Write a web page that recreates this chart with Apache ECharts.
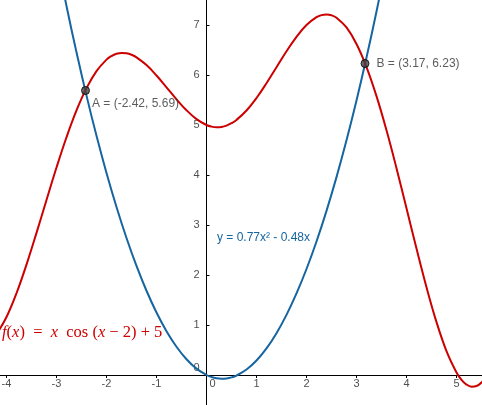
<!DOCTYPE html>
<html><head><meta charset="utf-8">
<script src="https://cdn.jsdelivr.net/npm/echarts@6/dist/echarts.min.js"></script>
<style>html,body{margin:0;padding:0;background:#fff}#c{width:482px;height:405px}</style>
</head><body><div id="c"></div>
<script>
// sampled x positions for the red curve
const xs = [-4.2,-4.0,-3.8,-3.6,-3.4,-3.2,-3.0,-2.8,-2.6,-2.4,-2.2,-2.0,-1.9,-1.8,-1.7,-1.6,-1.5,-1.4,-1.2,-1.0,-0.8,-0.6,-0.4,-0.2,0,0.1,0.2,0.3,0.4,0.5,0.6,0.8,1.0,1.2,1.4,1.6,1.8,2.0,2.2,2.3,2.4,2.5,2.6,2.8,3.0,3.2,3.4,3.6,3.8,4.0,4.2,4.4,4.6,4.8,5.0,5.1,5.2,5.3,5.4,5.5,5.6];
// red curve f(x) values read at xs
const fVals = [0.8145,1.1593,1.6350,2.2080,2.8421,3.5007,4.1490,4.7550,5.2924,5.7376,6.0786,6.3073,6.3793,6.4237,6.4418,6.4348,6.4047,6.3535,6.1979,5.9900,5.7538,5.5141,5.2950,5.1177,5.0,4.9677,4.9546,4.9613,4.9883,5.0354,5.1020,5.2899,5.5403,5.8361,6.1555,6.4737,6.7641,7.0,7.1562,7.1973,7.2105,7.1940,7.1459,6.9508,6.6209,6.1596,5.5779,4.8949,4.1366,3.3354,2.5283,1.7555,1.0583,0.4773,0.0500,-0.0956,-0.1911,-0.2336,-0.2207,-0.1505,-0.0219];
// blue parabola sample x and values
const gx = [-3.0,-2.8,-2.6,-2.4,-2.2,-2.0,-1.8,-1.6,-1.4,-1.2,-1.0,-0.8,-0.6,-0.4,-0.2,0,0.1,0.2,0.3,0.4,0.5,0.6,0.8,1.0,1.2,1.4,1.6,1.8,2.0,2.2,2.4,2.6,2.8,3.0,3.2,3.4,3.6];
const gVals = [8.37,7.3808,6.4532,5.5872,4.7828,4.04,3.3588,2.7392,2.1812,1.6848,1.25,0.8768,0.5652,0.3152,0.1268,0,-0.0403,-0.0652,-0.0747,-0.0688,-0.0475,-0.0108,0.1088,0.29,0.5328,0.8372,1.2032,1.6308,2.12,2.6708,3.2832,3.9572,4.6928,5.49,6.3488,7.2692,8.2512];
// intersection points
const ptNames = ['A','B'];
const ptX = [-2.42, 3.17];
const ptY = [5.69, 6.23];
// tick values / labels
const xTicks = [-4,-3,-2,-1,0,1,2,3,4,5];
const yTicks = [0,1,2,3,4,5,6,7];

const RED = '#cc0000', BLUE = '#1565a0';
const FONT = '"Liberation Sans", Arial, sans-serif';
const chart = echarts.init(document.getElementById('c'), null, {renderer:'canvas'});
const tickLabel = {show:true, fontFamily:FONT, fontSize:11, color:'#222'};
chart.setOption({
  animation:false,
  grid:{left:0, right:0, top:0, bottom:0, outerBoundsMode:'none'},
  xAxis:{type:'value', min:-4.13, max:5.51,
    axisLine:{onZero:true, lineStyle:{color:'#000', width:1}},
    axisTick:{show:true, inside:false, length:3, customValues:xTicks, lineStyle:{color:'#000'}},
    splitLine:{show:false},
    axisLabel:{show:false, customValues:xTicks}},
  yAxis:{type:'value', min:-0.6, max:7.5,
    axisLine:{onZero:true, lineStyle:{color:'#000', width:1}},
    axisTick:{show:true, inside:true, length:3, customValues:yTicks, lineStyle:{color:'#000'}},
    splitLine:{show:false},
    axisLabel:{show:false, customValues:yTicks}},
  series:[
    {type:'line', data:gx.map((x,i)=>[x,gVals[i]]), smooth:0.4, symbol:'none', clip:true,
      lineStyle:{color:BLUE, width:2}, z:2},
    {type:'line', data:xs.map((x,i)=>[x,fVals[i]]), smooth:0.4, symbol:'none', clip:true,
      lineStyle:{color:RED, width:2}, z:3},
    {type:'scatter', symbolSize:8, z:5,
      itemStyle:{color:'#444', borderColor:'#000', borderWidth:1},
      data:ptNames.map((n,i)=>({value:[ptX[i],ptY[i]], name:n,
        label:{show:true, position:'right',
          distance: i===0 ? 2 : 7,
          offset: i===0 ? [0,13] : [0,0],
          formatter: n+' = ('+ptX[i].toFixed(2)+', '+ptY[i].toFixed(2)+')',
          fontFamily:FONT, fontSize:12, color:'#333'}}))},
    // x-axis tick labels
    {type:'scatter', silent:true, symbolSize:0, z:1, clip:false,
      data:xTicks.map(v=>({value:[v,0],
        label:Object.assign({}, tickLabel, {position:'bottom', distance:3,
          offset: v===0 ? [6,0] : [0,0], formatter:String(v)})}))},
    // y-axis tick labels
    {type:'scatter', silent:true, symbolSize:0, z:1, clip:false,
      data:yTicks.map(v=>({value:[0,v],
        label:Object.assign({}, tickLabel, {position:'left', distance:7,
          offset: v===0 ? [0,-7] : [0,0], formatter:String(v)})}))}
  ],
  graphic:[
    {type:'text', left:217, top:232, style:{text:'y = 0.77x² - 0.48x', fill:BLUE, font:'12px "Liberation Sans", Arial, sans-serif'}},
    {type:'text', left:2, top:324, style:{
      text:'{i|f}{n|(}{i|x}{n|)  =  }{i|x}{n|  cos (}{i|x}{n| − 2) + 5}',
      rich:{
        i:{fontFamily:'"Liberation Serif", "DejaVu Serif", serif', fontStyle:'italic', fontSize:16.5, fill:RED},
        n:{fontFamily:'"Liberation Serif", "DejaVu Serif", serif', fontSize:16.5, fill:RED}
      }}}
  ]
});
</script></body></html>
